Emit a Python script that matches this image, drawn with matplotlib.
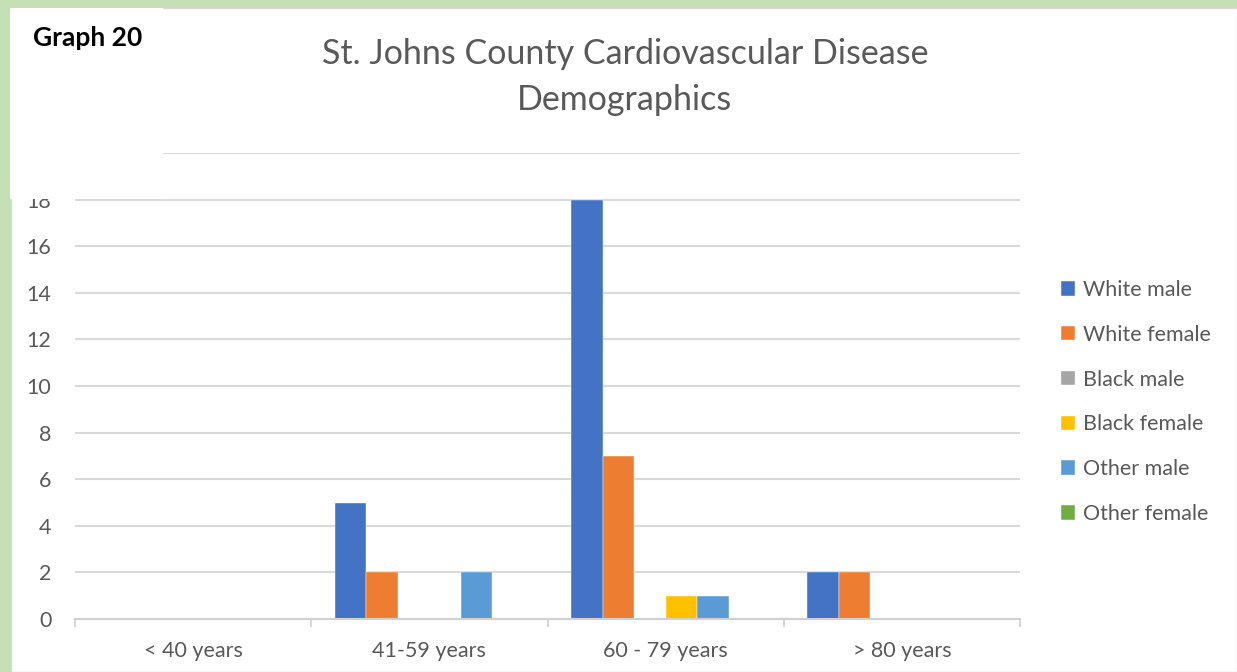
import numpy as np
import matplotlib.pyplot as plt
from matplotlib.patches import Rectangle

plt.rcParams['font.family'] = ['Lato', 'DejaVu Sans']

# Datos
grupos_edad = ["< 40 years", "41-59 years", "60 - 79 years", "> 80 years"]
series = ["White male", "White female", "Black male", "Black female", "Other male", "Other female"]
white_male = [0, 5, 18, 2]
white_female = [0, 2, 7, 2]
black_male = [0, 0, 0, 0]
black_female = [0, 0, 1, 0]
other_male = [0, 2, 1, 0]
other_female = [0, 0, 0, 0]
valores = [white_male, white_female, black_male, black_female, other_male, other_female]
colores = ["#4472C4", "#ED7D31", "#A5A5A5", "#FFC000", "#5B9BD5", "#70AD47"]

W, H = 1237, 672
fig = plt.figure(figsize=(W / 100, H / 100), dpi=100)
fig.patch.set_facecolor("#C5E0B4")

# fondo blanco del grafico
fig.patches.append(Rectangle((11 / W, 0), 1 - 11 / W, (H - 8) / H, transform=fig.transFigure,
                             facecolor="white", edgecolor="#D9D9D9", lw=1, zorder=-1))

ax = fig.add_axes([75 / W, 1 - 619 / H, (1020 - 75) / W, (619 - 153) / H])
ax.set_facecolor("none")

x = np.arange(len(grupos_edad))
ancho = 0.8 / len(series)
for i, (nombre, vals) in enumerate(zip(series, valores)):
    ax.bar(x - 0.4 + ancho * (i + 0.5), vals, ancho, color=colores[i], label=nombre,
           edgecolor="white", linewidth=0.3, zorder=3)

ax.set_xlim(-0.5, len(grupos_edad) - 0.5)
ax.set_ylim(0, 20)
ax.set_yticks(range(0, 21, 2))
ax.set_xticks(x)
ax.set_xticklabels(grupos_edad)
ax.set_xticks(np.arange(-0.5, len(grupos_edad)), minor=True)
ax.tick_params(axis="x", which="major", length=0, pad=16, labelsize=15.5, labelcolor="#595959")
ax.tick_params(axis="x", which="minor", length=6, color="#D0D0D0", width=1.2)
ax.tick_params(axis="y", length=0, pad=17, labelsize=15.5, labelcolor="#595959")
ax.grid(axis="y", color="#D9D9D9", lw=1.5, zorder=0)
for s in ["top", "right", "left"]:
    ax.spines[s].set_visible(False)
ax.spines["bottom"].set_color("#D0D0D0")
ax.spines["bottom"].set_linewidth(1.5)
ax.spines["bottom"].set_zorder(4)

fig.text(625 / W, 1 - 77 / H, "St. Johns County Cardiovascular Disease\nDemographics",
         ha="center", va="center", fontsize=24.5, color="#595959", linespacing=1.55)

fig.legend(loc="center left", bbox_to_anchor=(1042 / W, 1 - 402 / H), frameon=False,
           fontsize=15.5, labelcolor="#595959", handlelength=0.65, handleheight=0.65,
           handletextpad=0.35, labelspacing=1.15)

# recuadro "Graph 20"
fig.patches.append(Rectangle((10 / W, 1 - 199 / H), 153 / W, 191 / H, transform=fig.transFigure,
                             facecolor="white", edgecolor="none", zorder=5))
fig.text(33 / W, 1 - 38 / H, "Graph 20", ha="left", va="center", fontsize=19,
         fontweight="bold", color="black", zorder=6)

plt.savefig("out.png", dpi=100, facecolor=fig.get_facecolor())
